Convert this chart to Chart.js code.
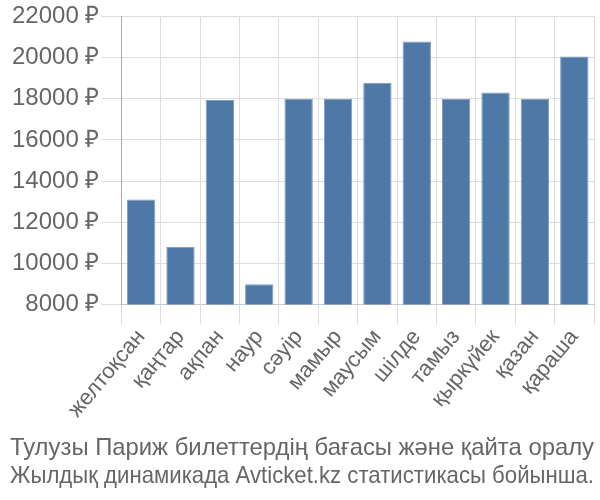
<!DOCTYPE html>
<html>
<head>
<meta charset="utf-8">
<script src="https://cdn.jsdelivr.net/npm/chart.js@4/dist/chart.umd.min.js"></script>
<style>
  html, body { margin: 0; padding: 0; background: #fff; }
  #wrap { width: 600px; height: 500px; }
</style>
</head>
<body>
<div id="wrap"><canvas id="myChart"></canvas></div>
<script>
'use strict';

var months = ['желтоқсан', 'қаңтар', 'ақпан', 'наур', 'сәуір', 'мамыр', 'маусым', 'шілде', 'тамыз', 'қыркүйек', 'қазан', 'қараша'];
var prices = [13100, 10800, 17940, 8980, 18000, 18000, 18780, 20780, 18000, 18300, 18000, 20050];
var titleLines = ['Тулузы Париж билеттердің бағасы және қайта оралу', 'Жылдық динамикада Avticket.kz статистикасы бойынша.'];

Chart.defaults.font.family = '"Liberation Sans", Arial, sans-serif';
Chart.defaults.color = '#666';

var ctx = document.getElementById('myChart').getContext('2d');
var myChart = new Chart(ctx, {
  type: 'bar',
  data: {
    labels: months,
    datasets: [{
      data: prices,
      backgroundColor: '#4e79a7',
      borderColor: '#7d9cc0',
      borderWidth: 1,
      categoryPercentage: 0.9,
      barPercentage: 0.8
    }]
  },
  options: {
    responsive: true,
    maintainAspectRatio: false,
    animation: false,
    layout: { padding: { left: 10, right: 6, top: 4, bottom: 0 } },
    plugins: {
      legend: { display: false },
      tooltip: { enabled: false },
      title: {
        display: true,
        position: 'bottom',
        text: titleLines,
        color: '#666',
        font: { size: 24, weight: 'normal', lineHeight: 1.15 },
        padding: { top: 12, bottom: 10 }
      }
    },
    scales: {
      x: {
        grid: { color: '#ddd', tickLength: 20 },
        border: { color: '#ccc' },
        ticks: {
          font: { size: 22 },
          maxRotation: 50,
          minRotation: 50,
          padding: 0
        }
      },
      y: {
        min: 8000,
        max: 22000,
        grid: { color: '#ddd', tickLength: 20 },
        border: { color: '#aaa', width: 1 },
        ticks: {
          stepSize: 2000,
          font: { size: 24 },
          padding: 2,
          callback: function(v) { return v + ' ₽'; }
        }
      }
    }
  }
});
</script>
</body>
</html>
